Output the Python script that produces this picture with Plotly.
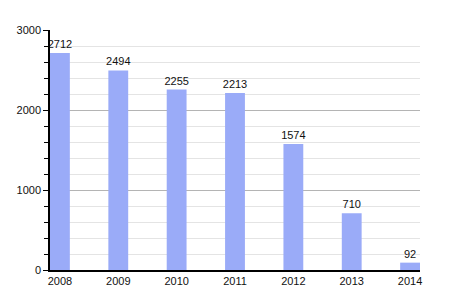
import plotly.graph_objects as go

years = ["2008", "2009", "2010", "2011", "2012", "2013", "2014"]
values = [2712, 2494, 2255, 2213, 1574, 710, 92]

xpos = list(range(len(years)))

fig = go.Figure(go.Bar(
    x=xpos, y=values, width=0.34,
    marker=dict(color="#9aabf8", line=dict(width=0)),
    text=[str(v) for v in values], textposition="outside",
    constraintext="none",
    textfont=dict(size=11, color="#111"), cliponaxis=False,
))

fig.update_layout(
    width=450, height=300,
    margin=dict(l=50, r=30, t=30, b=30),
    paper_bgcolor="white", plot_bgcolor="white",
    font=dict(family="Liberation Sans, Arial, sans-serif", size=11, color="#111"),
    showlegend=False,
    xaxis=dict(
        range=[-0.17, 6.17], tickvals=xpos, ticktext=years,
        showgrid=False, showline=True, linecolor="black", linewidth=1.5,
        ticks="", zeroline=False,
    ),
    yaxis=dict(
        range=[0, 3000], tickvals=[0, 1000, 2000, 3000],
        showgrid=True, gridcolor="#b4b4b4", gridwidth=1,
        showline=True, linecolor="black", linewidth=1.5,
        ticks="outside", ticklen=5, tickcolor="black",
        zeroline=False,
        minor=dict(dtick=200, showgrid=True, gridcolor="#e4e4e4",
                   ticks="outside", ticklen=4, tickcolor="black"),
    ),
)

fig.write_html("out.html")
